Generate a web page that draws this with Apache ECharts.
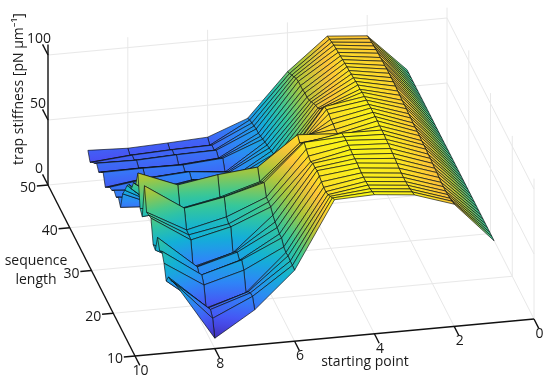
<!DOCTYPE html>
<html><head><meta charset="utf-8">
<style>html,body{margin:0;padding:0;background:#fff}#c{width:550px;height:382px}</style>
<script src="https://cdn.jsdelivr.net/npm/echarts@6/dist/echarts.min.js"></script>
</head><body><div id="c"></div>
<script>
// Data: stiffness for each starting point, sequence length 10 -> 50
const startingPoints = [1,2,3,4,5,6,7,8,9];
const sequenceLengths = [10,11,12,13,14,15,16,17,18,19,20,21,22,23,24,25,26,27,28,29,30,31,32,33,34,35,36,37,38,39,40,41,42,43,44,45,46,47,48,49,50];
const zS1 = [63,63,63,63,63,63,63,63,63,63,63,63,63,63,63,63,63,63,63,63,63,63,63,63,63,63,63,63,63,63,63,63,63,63,63,63,63,63,63,63,63];
const zS2 = [94,93,92,91.5,91,91,91,91.5,92,92,92.5,93,93,93.5,93.5,93.5,94,94,94,94,94.5,94.5,95,95,95,95.5,95.5,96,96,96,96,96,95.5,95.5,95,95,94.5,94,93.5,93,92];
const zS3 = [104,103,102,101.5,101,101,101,101.5,102,102.5,103,103.5,104,104,104.5,104.5,104.5,105,105,105,105,104.5,104.5,104,104,103,103,102.5,102,101.5,101,100.5,100,99.5,99,98.5,98,97.5,96.5,95.5,94.6];
const zS4 = [107,106,105,104.5,104,104,104,104.5,105,105,105,105.5,105.5,106,105.5,105,100,98,98,99,99,100,100,99,94,91,88,87,85,83,81,80,80,79,79,79,78,76,74,72,70];
const zS5 = [106,104,102,100,99,99,100,101,102,101,101,99,100,102,104,100,97,100,95,88,80,72,65,60,56,54,52,50,49,48,47,46,45,44,43,42,42,41,40,39,37];
const zS6 = [54.6,55,55,55.7,55,56,59.6,59.4,61,62,64,67,67.6,68,76,73,70,78,64,56,50,45,42,38,36,33.9,35.3,32,33.3,30,31.4,28.1,24.8,32.2,29,25.7,28.5,25.2,25.8,22.5,25.4];
const zS7 = [27,34,33.4,31,27,41,45.6,42,45,42,38,54.6,53.6,55.7,67.7,64,61,75,45,38,36,34,33,34,33,32.4,35.3,32,34.8,31.5,34.5,31.2,27.8,29.9,26.7,23.4,27.8,24.5,25.1,21.8,23.8];
const zS8 = [8,20,23.5,21.4,18,32.5,37,33,36.5,33,30,47.4,48,48.5,62,58,55,70,55,45,35,32,30,33,30,27.3,30.2,27,29.8,26.5,32.5,29.2,25.8,30.2,27,23.7,26.5,23.2,23.8,20.5,22.6];
const zS9 = [53,51,49,48,41.7,52,58,55,62,49,50,67,66,65,82,55,58,82,70,68,60,60,56,49,43,29.3,33.8,30.5,32.5,29.2,28.3,25,21.7,29.9,26.7,23.4,27,23.7,21.2,17.9,23.8];
const zColumns = [zS1,zS2,zS3,zS4,zS5,zS6,zS7,zS8,zS9];

// Axis ticks
const startTicks = [0,2,4,6,8,10];
const lengthTicks = [10,20,30,40,50];
const stiffnessTicks = [0,50,100];

// Orthographic view of the 3D box
const view = {ox:135, oy:356, sx:-39.9, sy:3.7, lx:-2.175, ly:-4.275, zy:-1.3, s0:10, l0:10};
const box = {sMin:0, sMax:10, lMin:10, lMax:50, zMin:0, zMax:108};
const colorRange = [5,107];
const parula = [[62,38,168],[72,82,244],[46,135,247],[18,177,214],[55,200,151],[171,199,57],[254,195,56],[249,251,20]];

function proj(s,l,z){
  return [view.ox+(s-view.s0)*view.sx+(l-view.l0)*view.lx, view.oy+(s-view.s0)*view.sy+(l-view.l0)*view.ly+z*view.zy];
}
function colorAt(z){
  let t=(z-colorRange[0])/(colorRange[1]-colorRange[0]);
  t=Math.max(0,Math.min(1,t))*(parula.length-1);
  const i=Math.min(parula.length-2,Math.floor(t)), f=t-i, a=parula[i], b=parula[i+1];
  return 'rgb('+[0,1,2].map(k=>Math.round(a[k]+(b[k]-a[k])*f)).join(',')+')';
}
function quadFill(pts,zs){
  const n=4; let cx=0,cy=0,cz=0;
  for(let i=0;i<n;i++){cx+=pts[i][0]/n;cy+=pts[i][1]/n;cz+=zs[i]/n;}
  let xx=0,yy=0,xy=0,xz=0,yz=0;
  for(let i=0;i<n;i++){const dx=pts[i][0]-cx,dy=pts[i][1]-cy,dz=zs[i]-cz;xx+=dx*dx;yy+=dy*dy;xy+=dx*dy;xz+=dx*dz;yz+=dy*dz;}
  const det=xx*yy-xy*xy;
  const zmin=Math.min(...zs), zmax=Math.max(...zs);
  if(Math.abs(det)<1e-3||zmax-zmin<0.01) return colorAt(cz);
  const a=(xz*yy-yz*xy)/det, b=(yz*xx-xz*xy)/det, g=a*a+b*b;
  if(g<1e-8) return colorAt(cz);
  const x0=cx+a/g*(zmin-cz), y0=cy+b/g*(zmin-cz), x1=cx+a/g*(zmax-cz), y1=cy+b/g*(zmax-cz);
  const stops=[];
  for(let k=0;k<=6;k++) stops.push({offset:k/6,color:colorAt(zmin+(zmax-zmin)*k/6)});
  return new echarts.graphic.LinearGradient(x0,y0,x1,y1,stops,true);
}

// Painter order: far rows first, then toward the viewer
const cells=[];
for(let j=sequenceLengths.length-2;j>=0;j--){
  for(let i=0;i<startingPoints.length-1;i++) cells.push([i,j]);
}

// Box grid lines as [s,l,z] pairs
const gridSegs=[];
[2,4,6,8].forEach(s=>{
  gridSegs.push([s,box.lMin,0,s,box.lMax,0]);
  gridSegs.push([s,box.lMax,0,s,box.lMax,box.zMax]);
});
[20,30,40].forEach(l=>{
  gridSegs.push([box.sMin,l,0,box.sMax,l,0]);
});
[10,20,30,40].forEach(l=>gridSegs.push([box.sMin,l,0,box.sMin,l,box.zMax]));
gridSegs.push([box.sMin,box.lMax,0,box.sMin,box.lMax,box.zMax]);
gridSegs.push([box.sMin,box.lMax,0,box.sMin,box.lMin,0]);
gridSegs.push([box.sMin,box.lMax,0,box.sMax,box.lMax,0]);
[50,100].forEach(z=>{
  gridSegs.push([box.sMin,box.lMax,z,box.sMax,box.lMax,z]);
  gridSegs.push([box.sMin,box.lMax,z,box.sMin,box.lMin,z]);
});

// Axis lines and ticks
const axisSegs=[
  [box.sMax,box.lMax,0,box.sMax,box.lMax,box.zMax],
  [box.sMax,box.lMax,0,box.sMax,box.lMin,0],
  [box.sMax,box.lMin,0,box.sMin,box.lMin,0]
];
stiffnessTicks.forEach(z=>axisSegs.push([box.sMax,box.lMax,z,box.sMax,box.lMax+2.5,z]));
lengthTicks.forEach(l=>axisSegs.push([box.sMax,l,0,box.sMax+0.28,l,0]));
startTicks.forEach(s=>axisSegs.push([s,box.lMin,0,s,box.lMin-2.2,0]));

// Tick labels: projected point plus a label offset
const labels=[];
stiffnessTicks.forEach(z=>{const p=proj(box.sMax,box.lMax,z);labels.push([p[0]-(z===50?10:9),p[1]-16,String(z)]);});
lengthTicks.forEach(l=>{const p=proj(box.sMax,l,0);labels.push([p[0]-20,p[1]+3.5,String(l)]);});
startTicks.forEach(s=>{const p=proj(s,box.lMin,0);labels.push([p[0]+5.5,p[1]+15,String(s)]);});
const FONT='14px "Open Sans","Noto Sans",sans-serif';

const chart=echarts.init(document.getElementById('c'),null,{renderer:'canvas'});
function lineItem(api,seg,style){
  const a=proj(seg[0],seg[1],seg[2]),b=proj(seg[3],seg[4],seg[5]);
  const p=api.coord(a),q=api.coord(b);
  return {type:'line',shape:{x1:p[0],y1:p[1],x2:q[0],y2:q[1]},style:style};
}
chart.setOption({
  animation:false,
  backgroundColor:'#fff',
  grid:{left:0,right:0,top:0,bottom:0},
  xAxis:{type:'value',min:0,max:550,show:false},
  yAxis:{type:'value',min:0,max:382,inverse:true,show:false},
  tooltip:{show:false},
  series:[
    {type:'custom',coordinateSystem:'cartesian2d',clip:false,silent:true,z:1,
     data:gridSegs.map((g,i)=>[i,0]),
     renderItem:(p,api)=>lineItem(api,gridSegs[api.value(0)],{stroke:'#e8e8e8',lineWidth:1,fill:null})},
    {type:'custom',coordinateSystem:'cartesian2d',clip:false,silent:true,z:2,
     data:cells,
     renderItem:(p,api)=>{
       const i=api.value(0),j=api.value(1);
       const corners=[[i,j],[i+1,j],[i+1,j+1],[i,j+1]];
       const zs=corners.map(c=>zColumns[c[0]][c[1]]);
       const pts=corners.map((c,k)=>api.coord(proj(startingPoints[c[0]],sequenceLengths[c[1]],zs[k])));
       return {type:'polygon',shape:{points:pts},
         style:{fill:quadFill(pts,zs),stroke:'rgba(10,15,20,0.88)',lineWidth:0.75,lineJoin:'round'}};
     }},
    {type:'custom',coordinateSystem:'cartesian2d',clip:false,silent:true,z:3,
     data:axisSegs.map((g,i)=>[i,0]),
     renderItem:(p,api)=>lineItem(api,axisSegs[api.value(0)],{stroke:'#111',lineWidth:1.4,fill:null})},
    {type:'custom',coordinateSystem:'cartesian2d',clip:false,silent:true,z:4,
     data:labels.map((l,i)=>[l[0],l[1],i]),
     renderItem:(p,api)=>{
       const c=api.coord([api.value(0),api.value(1)]);
       return {type:'text',style:{x:c[0],y:c[1],text:labels[api.value(2)][2],font:FONT,fill:'#1a1a1a',align:'center',verticalAlign:'middle'}};
     }}
  ],
  graphic:[
    {type:'text',x:365,y:362,style:{text:'starting point',font:FONT,fill:'#1a1a1a',align:'center',verticalAlign:'middle'}},
    {type:'text',x:36,y:261,style:{text:'sequence',font:FONT,fill:'#1a1a1a',align:'center',verticalAlign:'middle'}},
    {type:'text',x:36,y:280,style:{text:'length',font:FONT,fill:'#1a1a1a',align:'center',verticalAlign:'middle'}},
    {type:'text',x:19,y:89,rotation:Math.PI/2,style:{text:'trap stiffness [pN \u00b5m\u207b\u00b9]',font:FONT,fill:'#1a1a1a',align:'center',verticalAlign:'middle'}}
  ]
});
</script></body></html>
